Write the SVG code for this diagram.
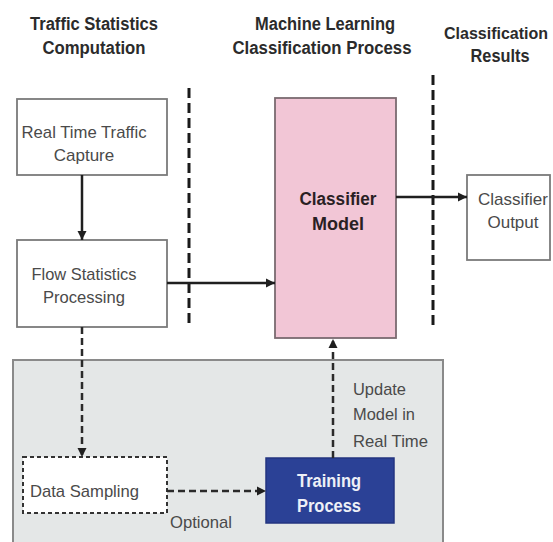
<svg xmlns="http://www.w3.org/2000/svg" width="553" height="542" viewBox="0 0 553 542">
<defs>
<style>
.title{font-family:"Liberation Sans",Arial,sans-serif;font-weight:bold;font-size:18px;fill:#2b2b2b;text-anchor:middle}
.lbl{font-family:"Liberation Sans",Arial,sans-serif;font-size:17px;fill:#4a4a4a}
.mid{text-anchor:middle}
.box{fill:#fff;stroke:#7a7a7a;stroke-width:1.8}
.divider{stroke:#1a1a1a;stroke-width:3;stroke-dasharray:10 5;fill:none}
.solid{stroke:#1f1f1f;stroke-width:2.5;fill:none;marker-end:url(#ah)}
.dash{stroke:#2a2a2a;stroke-width:2.5;stroke-dasharray:7 4;fill:none;marker-end:url(#ah)}
</style>
<marker id="ah" markerUnits="userSpaceOnUse" markerWidth="10" markerHeight="10" refX="9" refY="5" orient="auto">
<path d="M0,0.5 L9,5 L0,9.5 z" fill="#1f1f1f"/>
</marker>
</defs>
<rect width="553" height="542" fill="#fff"/>

<g id="titles">
<text class="title" x="94" y="30" textLength="128" lengthAdjust="spacingAndGlyphs">Traffic Statistics</text>
<text class="title" x="94" y="54" textLength="103" lengthAdjust="spacingAndGlyphs">Computation</text>
<text class="title" x="325" y="30" textLength="140" lengthAdjust="spacingAndGlyphs">Machine Learning</text>
<text class="title" x="322" y="54" textLength="179" lengthAdjust="spacingAndGlyphs">Classification Process</text>
<text class="title" x="496" y="39" style="font-size:16px">Classification</text>
<text class="title" x="500" y="62" textLength="59" lengthAdjust="spacingAndGlyphs">Results</text>
</g>

<g id="panel">
<rect x="13" y="360" width="430" height="190" fill="#e4e7e7" stroke="#8a8a8a" stroke-width="2"/>
</g>

<g id="dividers">
<line class="divider" x1="189" y1="88" x2="189" y2="327"/>
<line class="divider" x1="433" y1="75" x2="433" y2="327"/>
</g>

<g id="capture">
<rect class="box" x="17" y="99" width="150" height="76"/>
<text class="lbl mid" x="84" y="138" textLength="125" lengthAdjust="spacingAndGlyphs">Real Time Traffic</text>
<text class="lbl mid" x="84" y="161">Capture</text>
</g>

<g id="flowstats">
<rect class="box" x="17" y="240" width="150" height="87"/>
<text class="lbl mid" x="84" y="280" textLength="105" lengthAdjust="spacingAndGlyphs">Flow Statistics</text>
<text class="lbl mid" x="84" y="303" textLength="82" lengthAdjust="spacingAndGlyphs">Processing</text>
</g>

<g id="classifier">
<rect x="275" y="98" width="121" height="240" fill="#f2c6d6" stroke="#7a6a70" stroke-width="1.8"/>
<text class="title" x="338" y="205" style="fill:#2a1f24" textLength="77" lengthAdjust="spacingAndGlyphs">Classifier</text>
<text class="title" x="338" y="230" style="fill:#2a1f24">Model</text>
</g>

<g id="output">
<rect class="box" x="467" y="175" width="83" height="85"/>
<text class="lbl mid" x="513" y="205" textLength="70" lengthAdjust="spacingAndGlyphs">Classifier</text>
<text class="lbl mid" x="513" y="228">Output</text>
</g>

<g id="sampling">
<rect x="23" y="457" width="144" height="56" fill="#fff" stroke="#333" stroke-width="2" stroke-dasharray="4 3"/>
<text class="lbl" x="30" y="497" textLength="109" lengthAdjust="spacingAndGlyphs">Data Sampling</text>
</g>

<g id="training">
<rect x="266" y="458" width="128" height="65" fill="#2b4196" stroke="#233580" stroke-width="1.5"/>
<text class="title" x="329" y="487" style="fill:#eef0f7" textLength="64" lengthAdjust="spacingAndGlyphs">Training</text>
<text class="title" x="329" y="512" style="fill:#eef0f7" textLength="64" lengthAdjust="spacingAndGlyphs">Process</text>
</g>

<g id="connectors">
<line class="solid" x1="82" y1="175" x2="82" y2="240"/>
<line class="solid" x1="167" y1="283" x2="275" y2="283"/>
<line class="solid" x1="396" y1="197" x2="467" y2="197"/>
<line class="dash" x1="82" y1="327" x2="82" y2="457"/>
<line class="dash" x1="167" y1="491" x2="266" y2="491"/>
<line class="dash" x1="333" y1="458" x2="333" y2="339"/>
</g>

<g id="labels">
<text class="lbl" x="170" y="528" textLength="62" lengthAdjust="spacingAndGlyphs">Optional</text>
<text class="lbl" x="353" y="395" textLength="53" lengthAdjust="spacingAndGlyphs">Update</text>
<text class="lbl" x="353" y="420" textLength="62" lengthAdjust="spacingAndGlyphs">Model in</text>
<text class="lbl" x="353" y="447" textLength="75" lengthAdjust="spacingAndGlyphs">Real Time</text>
</g>
</svg>
